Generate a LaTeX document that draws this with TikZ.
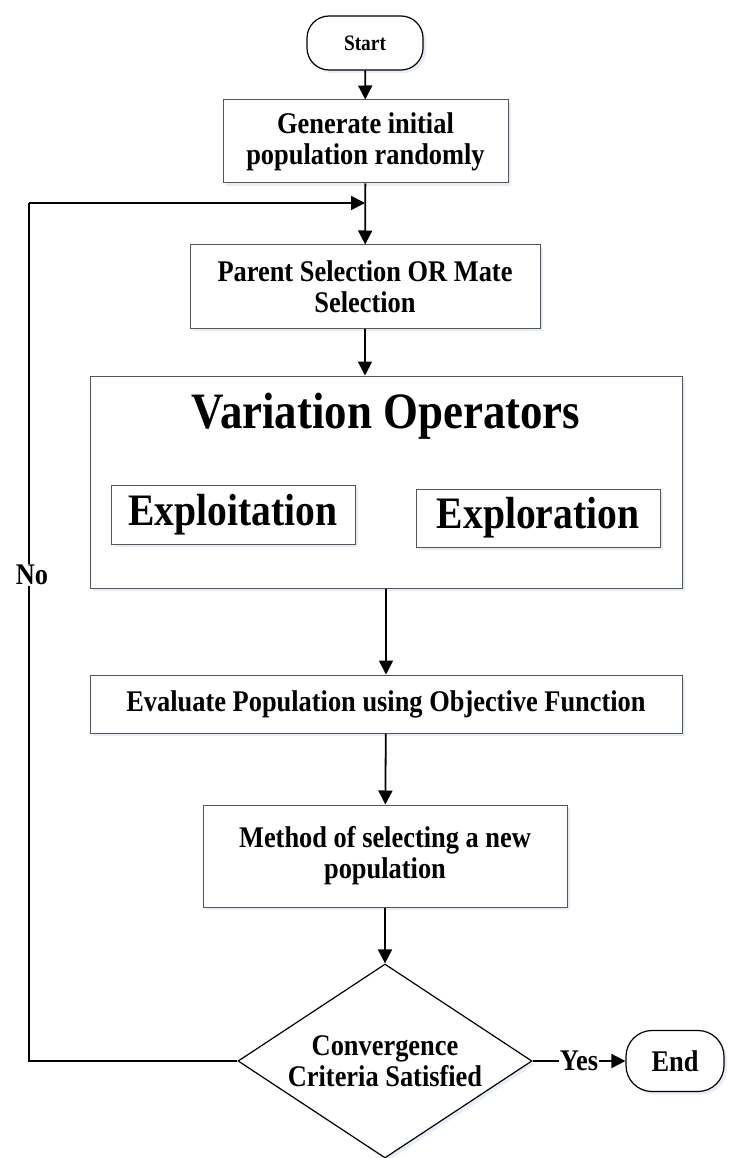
\documentclass[tikz,border=0pt]{standalone}
\usepackage{fontspec}
\setmainfont{Liberation Serif}[FakeStretch=0.88]
\usetikzlibrary{arrows.meta,shapes.geometric,shadows}
\definecolor{edgegray}{RGB}{85,85,85}
\definecolor{shadowc}{RGB}{232,238,247}
\begin{document}
\begin{tikzpicture}[x=1pt,y=-1pt,
  txt/.style={font=\fontsize{30}{31}\selectfont\bfseries},
  box/.style={txt, draw=edgegray, line width=1pt, fill=white, align=center,
    inner sep=0pt,
    drop shadow={shadow xshift=3pt,shadow yshift=-3pt,fill=shadowc,opacity=1}},
  term/.style={box, draw=black, line width=1.2pt, rounded corners=22pt},
  decision/.style={diamond, draw=black, line width=1.2pt, fill=white, inner sep=0pt,
    drop shadow={shadow xshift=3pt,shadow yshift=-3pt,fill=shadowc,opacity=1}},
  big/.style={font=\fontsize{45}{48}\selectfont\bfseries},
  conn/.style={draw=black, line width=1.8pt, -{Triangle[length=14pt,width=14pt]}},
  plain/.style={draw=black, line width=1.8pt},
  lab/.style={txt, fill=white, inner sep=1pt}
]
\useasboundingbox[fill=white] (0,0) rectangle (728,1158);

% flowchart blocks
\node[term, minimum width=116pt, minimum height=54pt, font=\fontsize{22}{24}\selectfont\bfseries] (start) at (365,43) {Start};
\node[box, minimum width=285pt, minimum height=83pt] (gen) at (365.5,141.5) {Generate initial\\population randomly};
\node[box, minimum width=350pt, minimum height=83pt] (par) at (365,286.5) {Parent Selection OR Mate\\Selection};
\node[box, minimum width=592pt, minimum height=212pt] (var) at (386,482) {};
\node[font=\fontsize{51}{54}\selectfont\bfseries, anchor=base, inner sep=0pt] (vtitle) at (386,428) {Variation Operators};
\node[box, big, minimum width=244pt, minimum height=59pt] (exploit) at (233,514.5) {Exploitation};
\node[box, big, minimum width=244pt, minimum height=58pt] (explore) at (538,518) {Exploration};
\node[box, minimum width=592pt, minimum height=58pt] (eval) at (386,704) {Evaluate Population using Objective Function};
\node[box, minimum width=364pt, minimum height=102pt] (meth) at (385,856) {Method of selecting a new\\population};
\node[decision, minimum width=294pt, minimum height=194pt,
  label={[txt, align=center]center:Convergence\\Criteria Satisfied}] (dia) at (385,1061) {};
\node[term, minimum width=98pt, minimum height=61pt, rounded corners=26pt] (fin) at (675,1061) {End};

% connectors
\coordinate (join) at (365,203);
\coordinate (corner) at (29,203);
\draw[conn] (start) -- (gen);
\draw[conn] (gen) -- (par);
\draw[conn] (par.south) -- (par.south |- var.north);
\draw[conn] (var) -- (eval);
\draw[conn] (eval) -- (meth);
\draw[conn] (meth) -- (dia);
\draw[plain] (dia.west) -| (corner);
\draw[conn] (corner) -- (join);
\node[lab] (no) at (32,575) {No};
\draw[conn] (dia.east) -- node[lab, inner sep=0.5pt] (yes) {Yes} (fin.west);
\end{tikzpicture}
\end{document}
